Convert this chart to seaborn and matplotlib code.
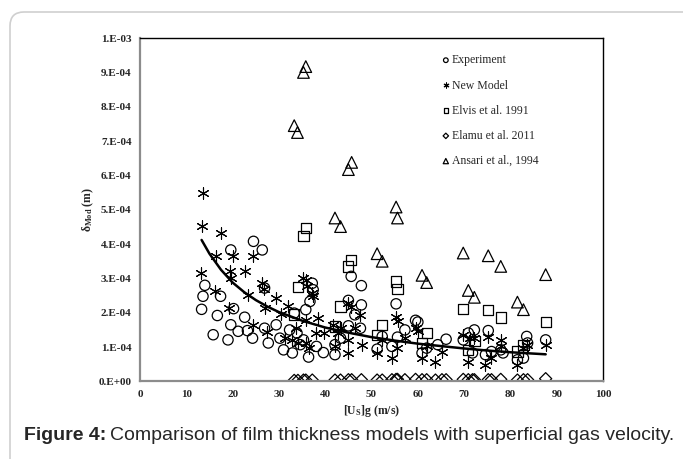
import matplotlib
matplotlib.use('Agg')
import matplotlib.pyplot as plt
import seaborn as sns
import pandas as pd
from matplotlib.patches import FancyBboxPatch

# Experiment (circles)
exp_x = [13.3, 13.6, 14.0, 15.8, 16.7, 17.4, 19.0, 19.6, 19.6, 20.2, 21.2, 22.6, 23.2, 24.5, 24.3,
         26.4, 26.9, 26.9, 27.7, 29.4, 30.2, 31.0, 32.3, 32.9, 33.9, 33.3, 34.6, 35.3, 35.8, 36.4,
         36.7, 37.2, 37.4, 38.1, 39.6, 42.1, 42.1, 43.3, 45.0, 45.0, 45.6, 46.4, 47.8, 47.8, 47.6,
         51.2, 52.3, 54.4, 55.3, 55.6, 57.2, 59.5, 60.0, 60.9, 61.9, 64.3, 66.1, 69.8, 70.9, 72.2,
         71.8, 75.2, 74.6, 75.9, 77.9, 78.4, 81.5, 82.8, 83.5, 83.7, 87.6]
exp_y = [2.10, 2.48, 2.80, 1.36, 1.92, 2.48, 1.21, 1.65, 3.83, 2.12, 1.46, 1.87, 1.48, 4.08, 1.26,
         3.83, 1.55, 2.72, 1.12, 1.65, 1.26, 0.92, 1.50, 0.83, 1.41, 1.99, 1.07, 1.21, 2.09, 0.71,
         2.33, 2.86, 2.67, 1.02, 0.84, 0.78, 1.07, 1.26, 1.62, 2.36, 3.06, 1.94, 2.79, 2.23, 1.55,
         0.94, 1.31, 1.02, 2.26, 1.29, 1.50, 1.78, 1.73, 0.83, 0.97, 1.07, 1.23, 1.21, 1.41, 1.50,
         0.83, 1.48, 0.78, 0.87, 0.92, 0.83, 0.63, 0.68, 1.31, 1.12, 1.21]

# New Model (stars)
new_x = [13.5, 13.3, 13.2, 17.4, 16.5, 16.1, 20.0, 19.4, 19.6, 19.3, 22.6, 24.3, 23.3, 24.5, 26.4,
         26.8, 26.9, 27.5, 29.3, 30.4, 31.3, 31.9, 32.9, 33.7, 34.1, 35.3, 35.8, 36.1, 35.8, 35.8,
         37.2, 37.4, 36.5, 38.4, 37.9, 39.8, 41.7, 42.8, 42.1, 43.3, 45.0, 45.5, 45.0, 45.0, 46.4,
         47.6, 48.0, 51.2, 52.3, 54.4, 55.3, 55.8, 55.6, 57.2, 59.5, 60.0, 60.9, 61.9, 63.8, 65.2,
         69.8, 70.9, 71.3, 72.2, 74.6, 75.2, 75.9, 77.9, 77.9, 81.5, 82.6, 83.5, 87.6]
new_y = [5.50, 4.53, 3.17, 4.32, 3.64, 2.62, 3.64, 3.23, 3.01, 2.14, 3.23, 3.64, 2.52, 1.65, 2.88,
         2.69, 2.14, 1.43, 2.43, 1.97, 1.26, 2.20, 1.21, 1.55, 1.12, 3.01, 2.96, 2.77, 1.80, 1.12,
         2.57, 2.48, 0.97, 1.84, 1.41, 1.41, 1.65, 1.41, 1.02, 1.55, 2.28, 2.16, 1.21, 0.83, 1.55,
         1.94, 1.07, 0.83, 1.21, 0.68, 1.89, 1.75, 0.97, 1.26, 1.55, 1.46, 0.68, 1.02, 0.58, 0.87,
         1.36, 0.58, 1.26, 1.26, 0.49, 1.29, 0.68, 1.21, 1.02, 0.49, 0.97, 1.07, 1.07]

# Elvis et al. 1991 (squares)
elvis_x = [33.3, 34.1, 35.3, 35.9, 42.1, 43.3, 44.9, 45.6, 51.2, 52.3, 55.3, 55.6, 60.9, 61.9,
           69.8, 70.9, 72.2, 75.2, 77.9, 81.5, 82.8, 87.6]
elvis_y = [1.95, 2.75, 4.24, 4.47, 1.60, 2.18, 3.35, 3.54, 1.36, 1.65, 2.91, 2.69, 1.12, 1.41,
           2.11, 0.92, 1.17, 2.09, 1.86, 0.87, 1.07, 1.73]

# Elamu et al. 2011 (diamonds)
elamu_x = [33.3, 34.1, 35.3, 35.8, 37.2, 42.1, 43.3, 45.0, 45.7, 47.8, 51.2, 52.3, 54.4, 55.3,
           55.6, 57.2, 59.5, 60.9, 61.9, 63.8, 65.2, 66.1, 69.8, 70.9, 71.8, 72.2, 75.2, 75.9,
           77.9, 81.5, 82.8, 83.7, 87.6]
elamu_y = [0.03, 0.03, 0.04, 0.04, 0.04, 0.04, 0.04, 0.05, 0.05, 0.05, 0.04, 0.04, 0.05, 0.06,
           0.06, 0.05, 0.06, 0.05, 0.05, 0.04, 0.05, 0.05, 0.06, 0.05, 0.05, 0.05, 0.05, 0.05,
           0.06, 0.04, 0.05, 0.05, 0.08]

# Ansari et al., 1994 (triangles)
ansari_x = [33.3, 34.0, 35.3, 35.8, 42.1, 43.3, 45.0, 45.7, 51.2, 52.3, 55.3, 55.6, 60.9, 61.9,
            69.8, 70.9, 72.2, 75.2, 77.9, 81.5, 82.8, 87.6]
ansari_y = [7.45, 7.25, 9.00, 9.17, 4.76, 4.51, 6.17, 6.38, 3.72, 3.50, 5.08, 4.76, 3.09, 2.88,
            3.74, 2.65, 2.45, 3.66, 3.35, 2.31, 2.09, 3.11]

# trend curve
fit_x = [13.3, 15, 17.5, 20, 22.5, 25, 27.5, 30, 35, 40, 45, 50, 55, 60, 65, 70, 75, 80, 87.6]
fit_y = [4.12, 3.72, 3.25, 2.88, 2.60, 2.37, 2.18, 2.02, 1.77, 1.57, 1.42, 1.29, 1.19, 1.10,
         1.03, 0.96, 0.90, 0.85, 0.79]

y_ticks = [0, 1e-4, 2e-4, 3e-4, 4e-4, 5e-4, 6e-4, 7e-4, 8e-4, 9e-4, 1e-3]
y_labels = ['0.E+00', '1.E-04', '2.E-04', '3.E-04', '4.E-04', '5.E-04',
            '6.E-04', '7.E-04', '8.E-04', '9.E-04', '1.E-03']
x_ticks = list(range(0, 101, 10))

sns.set_style('white')
plt.rcParams['font.family'] = ['Liberation Serif', 'DejaVu Serif']
plt.rcParams['mathtext.fontset'] = 'custom'
plt.rcParams['mathtext.rm'] = 'Liberation Serif'
plt.rcParams['mathtext.bf'] = 'Liberation Serif:bold'
plt.rcParams['mathtext.it'] = 'Liberation Serif:italic'

fig = plt.figure(figsize=(6.83, 4.59), dpi=100)
ax = fig.add_axes([0.205, 0.169, 0.678, 0.748])

scale = 1e-4
series = [
    ('Experiment', exp_x, exp_y, 'o', 55),
    ('New Model', new_x, new_y, (6, 2, 0), 65),
    ('Elvis et al. 1991', elvis_x, elvis_y, 's', 55),
    ('Elamu et al. 2011', elamu_x, elamu_y, 'D', 38),
    ('Ansari et al., 1994', ansari_x, ansari_y, '^', 70),
]
for name, xs, ys, mk, sz in series:
    df = pd.DataFrame({'x': xs, 'y': [v * scale for v in ys]})
    if mk == (6, 2, 0):
        sns.scatterplot(data=df, x='x', y='y', marker=mk, s=sz, color='black',
                        linewidth=0.8, label=name, ax=ax)
    else:
        sns.scatterplot(data=df, x='x', y='y', marker=mk, s=sz, facecolors='none',
                        edgecolor='black', linewidth=0.9, label=name, ax=ax)

fit_df = pd.DataFrame({'x': fit_x, 'y': [v * scale for v in fit_y]})
sns.lineplot(data=fit_df, x='x', y='y', color='black', linewidth=1.8, ax=ax, label='_nolegend_')

ax.set_xlim(0, 100)
ax.set_ylim(0, 1e-3)
ax.set_xticks(x_ticks)
ax.set_xticklabels([str(t) for t in x_ticks], fontsize=8, fontweight='bold')
ax.set_yticks(y_ticks)
ax.set_yticklabels(y_labels, fontsize=8, fontweight='bold')
ax.tick_params(length=0, pad=6)
ax.set_xlabel(r'[U$_{\mathbf{S}}$]g (m/s)', fontsize=8.5, fontweight='bold', labelpad=3)
ax.set_ylabel(r'δ$_{\mathbf{Mod}}$ (m)', fontsize=8.5, fontweight='bold', labelpad=2)

for side in ['left', 'bottom']:
    ax.spines[side].set_color('#8c8c8c')
    ax.spines[side].set_linewidth(1.6)
for side in ['top', 'right']:
    ax.spines[side].set_color('black')
    ax.spines[side].set_linewidth(1.0)

leg = ax.legend(loc='upper left', bbox_to_anchor=(0.64, 0.97), frameon=False,
                fontsize=8.5, markerscale=0.45, handlelength=0.6, handletextpad=0.2,
                labelspacing=1.12, borderpad=0)

# rounded border around the figure panel
border = FancyBboxPatch((10, -40), 720, 447 + 40, boxstyle='round,pad=0,rounding_size=14',
                        transform=None, facecolor='none', edgecolor='#cfcfcf', linewidth=1.2)
fig.patches.append(border)

t1 = fig.text(24 / 683, 1 - 435 / 459, 'Figure 4:', fontsize=14, fontweight='bold',
              family='Liberation Sans', va='center', ha='left')
fig.canvas.draw()
bb = t1.get_window_extent(renderer=fig.canvas.get_renderer())
fig.text((bb.x1 + 4) / fig.bbox.width, 1 - 435 / 459,
         'Comparison of film thickness models with superficial gas velocity.',
         fontsize=14, family='Liberation Sans', va='center', ha='left')

plt.savefig('out.png', dpi=100)
